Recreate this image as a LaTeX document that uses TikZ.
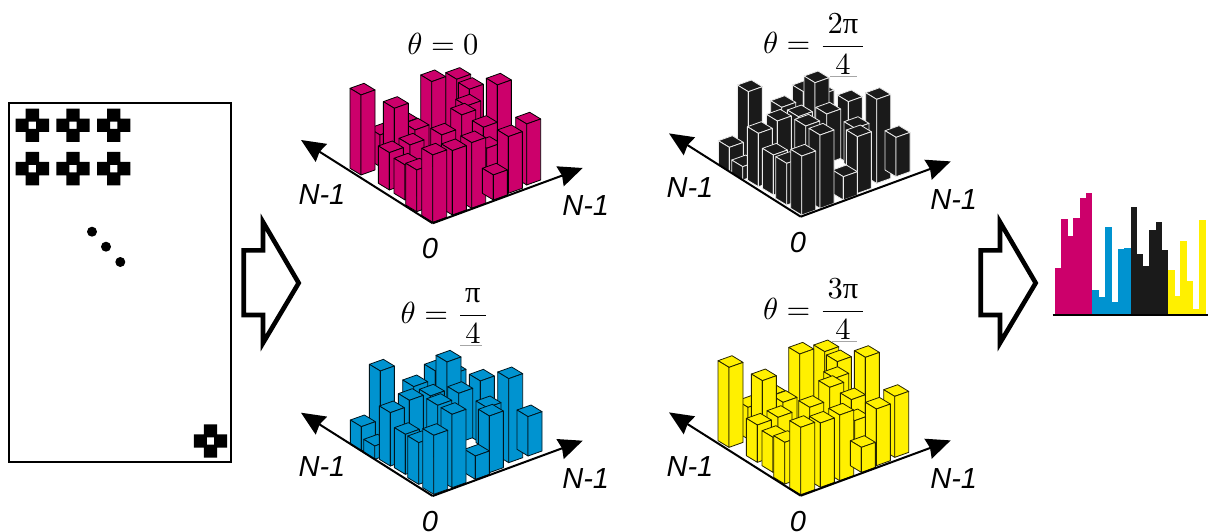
\documentclass[tikz,border=0pt]{standalone}
\usepackage{fontspec}
\usetikzlibrary{arrows.meta}
\newfontfamily\labelfont{Liberation Sans}
\newfontfamily\pifont{Liberation Serif}
\definecolor{pmag}{HTML}{CC006B}
\definecolor{pcya}{HTML}{0093D0}
\definecolor{pyel}{HTML}{FFF000}
\definecolor{pblk}{HTML}{1A1A1A}
\tikzset{
  axisline/.style={line width=2pt,-{Stealth[length=24pt,width=21pt,inset=2pt]}},
  axislabel/.style={font=\labelfont\itshape\fontsize{29}{31}\selectfont,inner sep=0pt},
  eqlabel/.style={scale=3.05,anchor=base,inner sep=0pt},
  barface/.style={fill=barfill,draw=baredge,line width=0.8pt,line join=round},
  blockarrow/.style={draw=black,line width=4.6pt,fill=white,miter limit=10},
  frame/.style={draw=black,line width=2pt,fill=white}
}
\newcommand{\barcol}[3]{%
  \path[barface] (#1,#2)--(#1+42,#2-15)--(#1+9,#2-35)--(#1-33,#2-20)--cycle;
  \path[barface] (#1-33,#2-20)--(#1,#2)--(#1,#3)--(#1-33,#3-20)--cycle;
  \path[barface] (#1,#2)--(#1+42,#2-15)--(#1+42,#3-15)--(#1,#3)--cycle;
}
\newcommand{\barsA}{%
  \foreach \f/\t/\b in {500/178/400,538/208/400,622/195/470,530/258/420,425/185/440,
    340/310/400,270/345/440,375/330/420,313/265/440,515/285/400,580/322/450,
    213/225/465,710/312/495,455/345/440,590/385/470,360/375/450,655/350/520,298/398/510,
    545/368/565,610/465/540,345/435/540,487/392/585,380/450/575,428/405/607}
    {\barcol{\f}{\t}{\b}}%
}
\newcommand{\barsB}{%
  \foreach \f/\t/\b in {430/215/400,480/225/400,465/188/420,365/262/380,265/215/420,565/245/430,
    650/238/490,415/290/400,585/325/450,708/352/470,500/282/430,352/303/430,437/318/480,
    208/382/455,248/440/480,295/340/500,592/350/520,550/470/540,480/345/565,340/405/525,
    380/430/555,425/408/585}
    {\barcol{\f}{\t}{\b}}%
}
\newcommand{\crossglyph}[2]{%
  \fill[black,even odd rule] (#1-16.7,#2-6.7)--(#1-6.7,#2-6.7)--(#1-6.7,#2-16.7)--(#1+6.7,#2-16.7)--(#1+6.7,#2-6.7)--(#1+16.7,#2-6.7)--(#1+16.7,#2+6.7)--(#1+6.7,#2+6.7)--(#1+6.7,#2+16.7)--(#1-6.7,#2+16.7)--(#1-6.7,#2+6.7)--(#1-16.7,#2+6.7)--cycle
    (#1-3.7,#2-3.7) rectangle (#1+3.7,#2+3.7);
}
\newcommand{\plotbars}[7]{% ox oy barlist fill edge zx zy
  \colorlet{barfill}{#4}\colorlet{baredge}{#5}
  \begin{scope}[shift={(#1-#6/3,#2-#7/3)},x=0.33333pt,y=-0.33333pt]
    #3
  \end{scope}
}
\newcommand{\plotaxes}[3]{% prefix ox oy
  \coordinate (#1o) at (#2,#3);
  \coordinate (#1l) at (#2-131.7,#3-83.3);
  \coordinate (#1r) at (#2+150,#3-55.3);
  \draw[axisline] (#1o)--(#1l);
  \draw[axisline] (#1o)--(#1r);
  \node[axislabel] (#1nl) at (#2-110.7,#3-29) {N-1};
  \node[axislabel] (#1nr) at (#2+153,#3-17.5) {N-1};
  \node[axislabel] (#1z) at (#2-2.7,#3+25.7) {0};
}
\begin{document}
\begin{tikzpicture}[x=1pt,y=-1pt]
\useasboundingbox (0,0) rectangle (1208,532);
% source frame
\path[frame] (9,103.5) rectangle (231,462);
\foreach \xx in {32.3,73,113.7}{\foreach \yy in {125.3,168.7}{\crossglyph{\xx}{\yy}}}
\crossglyph{210.5}{441}
\foreach \xx/\yy in {92/231.7,106/246.7,120.3/262}{\fill (\xx,\yy) circle (5);}
% block arrows
\path[blockarrow] (243.7,250.3)--(263,250.3)--(263,222)--(298.7,283)--(263,343)--(263,315)--(243.7,315)--cycle;
\path[blockarrow] (980.7,250.3)--(1000,250.3)--(1000,222)--(1035.7,283)--(1000,343)--(1000,315)--(980.7,315)--cycle;
% equations
\node[eqlabel] (eqa) at (443,55) {$\theta=0$};
\node[eqlabel] (eqb) at (815,54) {$\displaystyle\theta=\frac{\,2\mbox{\pifont π}\,}{4}$};
\node[eqlabel] (eqc) at (445,323) {$\displaystyle\theta=\frac{\,\mbox{\pifont π}\,}{4}$};
\node[eqlabel] (eqd) at (815,319) {$\displaystyle\theta=\frac{\,3\mbox{\pifont π}\,}{4}$};
% crops of the denominators
\fill[white] (820,76.5) rectangle (870,95);
\fill[white] (450,345) rectangle (500,362);
\fill[white] (820,341) rectangle (870,358);
\draw[gray!70,line width=0.5pt] (830,76.5)--(857,76.5);
\draw[gray!70,line width=0.5pt] (460,345)--(482,345);
\draw[gray!70,line width=0.5pt] (832,341)--(857,341);
% bars
\plotbars{432.7}{223.3}{\barsA}{pmag}{black}{428}{610}
\plotbars{800.7}{216.7}{\barsB}{pblk}{white!92!black}{422}{590}
\plotbars{432.7}{496}{\barsB}{pcya}{black!85!pcya}{422}{590}
\plotbars{800.7}{495.7}{\barsA}{pyel}{black!85!pyel}{428}{610}
% axes
\plotaxes{a}{432.7}{223.3}
\plotaxes{b}{800.7}{216.7}
\plotaxes{c}{432.7}{496}
\plotaxes{d}{800.7}{495.7}
% histogram
\begin{scope}[shift={(970,180)},x=0.33333pt,y=-0.33333pt]
  \foreach \xa/\xb/\t in {255/273/265,273/295/118,295/309/168,309/330/115,330/348/55,348/367/40}
    {\fill[pmag] (\xa,\t) rectangle (\xb,405);}
  \foreach \xa/\xb/\t in {366/388/330,388/405/350,405/425/142,425/444/367,444/462/208,462/482/205}
    {\fill[pcya] (\xa,\t) rectangle (\xb,405);}
  \foreach \xa/\xb/\t in {482/500/82,500/520/223,520/538/258,538/557/150,557/576/127,576/595/210}
    {\fill[pblk] (\xa,\t) rectangle (\xb,405);}
  \foreach \xa/\xb/\t in {595/614/270,614/630/348,630/652/184,652/670/304,670/688/387,688/708/120}
    {\fill[pyel] (\xa,\t) rectangle (\xb,405);}
  \coordinate (hl) at (248,405);
  \coordinate (hr) at (714,405);
  \draw[black,line width=1.2pt] (hl)--(hr);
\end{scope}
\end{tikzpicture}
\end{document}
